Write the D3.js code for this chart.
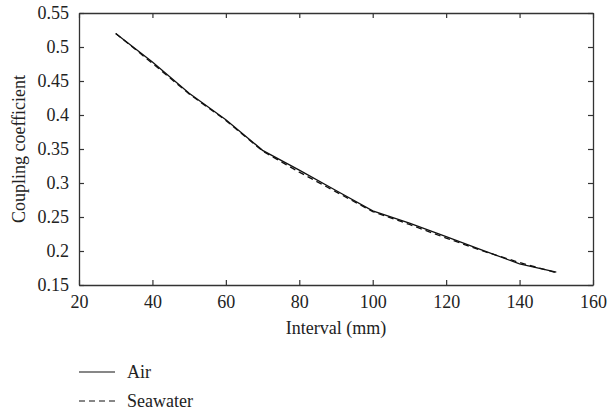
<!DOCTYPE html>
<html>
<head>
<meta charset="utf-8">
<script src="https://cdn.jsdelivr.net/npm/d3@7"></script>
<style>
  body { margin: 0; background: #fff; }
  svg text { font-family: "Liberation Serif", "DejaVu Serif", serif; fill: #222; }
</style>
</head>
<body>
<div id="chart"></div>
<script>
// values
let intervals = [30, 40, 50, 60, 70, 80, 90, 100, 110, 120, 130, 140, 150];
let air = [0.52, 0.478, 0.432, 0.393, 0.348, 0.319, 0.289, 0.259, 0.241, 0.221, 0.201, 0.181, 0.169];
let seawater = [0.52, 0.476, 0.431, 0.392, 0.347, 0.316, 0.287, 0.258, 0.239, 0.219, 0.2, 0.183, 0.168];
let xTicks = [20, 40, 60, 80, 100, 120, 140, 160];
let yTicks = [0.15, 0.2, 0.25, 0.3, 0.35, 0.4, 0.45, 0.5, 0.55];
let seriesNames = ["Air", "Seawater"];

let settings = {
    width: 608,
    height: 414,
    left: 79,
    right: 593,
    top: 13,
    bottom: 285,
    tick: 5,
    font: "18px",
    family: "'Liberation Serif', 'DejaVu Serif', serif",
};

let svg = d3.select("#chart").append("svg")
    .attr("width", settings.width)
    .attr("height", settings.height);

let x = d3.scaleLinear().domain([20, 160]).range([settings.left, settings.right]);
let y = d3.scaleLinear().domain([0.15, 0.55]).range([settings.bottom, settings.top]);

function styleAxis(g) {
    g.attr("font-family", settings.family);
    g.selectAll("path.domain").attr("stroke", "#333").attr("stroke-width", 1.3);
    g.selectAll(".tick line").attr("stroke", "#333").attr("stroke-width", 1.2);
    g.selectAll("text")
        .style("font-size", settings.font)
        .style("font-family", settings.family)
        .attr("fill", "#222");
}

// bottom axis, ticks pointing in
svg.append("g")
    .attr("transform", "translate(0," + settings.bottom + ")")
    .call(d3.axisBottom(x).tickValues(xTicks).tickSizeInner(-settings.tick).tickSizeOuter(0).tickPadding(10))
    .call(styleAxis);

// left axis
svg.append("g")
    .attr("transform", "translate(" + settings.left + ",0)")
    .call(d3.axisLeft(y).tickValues(yTicks).tickFormat(d3.format("")).tickSizeInner(-settings.tick).tickSizeOuter(0).tickPadding(10))
    .call(styleAxis);

// top and right, no labels
svg.append("g")
    .attr("transform", "translate(0," + settings.top + ")")
    .call(d3.axisTop(x).tickValues(xTicks).tickFormat("").tickSizeInner(-settings.tick).tickSizeOuter(0))
    .call(styleAxis);

svg.append("g")
    .attr("transform", "translate(" + settings.right + ",0)")
    .call(d3.axisRight(y).tickValues(yTicks).tickFormat("").tickSizeInner(-settings.tick).tickSizeOuter(0))
    .call(styleAxis);

// axis titles
svg.append("text")
    .attr("x", (settings.left + settings.right) / 2)
    .attr("y", 334)
    .attr("text-anchor", "middle")
    .style("font-size", settings.font)
    .text("Interval (mm)");

svg.append("text")
    .attr("transform", "translate(25," + (settings.top + settings.bottom) / 2 + ") rotate(-90)")
    .attr("text-anchor", "middle")
    .style("font-size", settings.font)
    .text("Coupling coefficient");

let line = d3.line()
    .x((d, i) => x(intervals[i]))
    .y(d => y(d));

let series = [
    { name: seriesNames[0], values: air, dash: null },
    { name: seriesNames[1], values: seawater, dash: "6,4" },
];

svg.append("g")
    .selectAll("path.series")
    .data(series)
    .enter().append("path")
    .attr("class", "series")
    .attr("fill", "none")
    .attr("stroke", "#111")
    .attr("stroke-width", 1.3)
    .attr("stroke-dasharray", d => d.dash)
    .attr("d", d => line(d.values));

// legend
let legend = svg.append("g")
    .selectAll("g.legend")
    .data(series)
    .enter().append("g")
    .attr("class", "legend")
    .attr("transform", (d, i) => "translate(79," + (372 + i * 29) + ")");

legend.append("line")
    .attr("x1", 0)
    .attr("x2", 36)
    .attr("stroke", "#111")
    .attr("stroke-width", 1.2)
    .attr("stroke-dasharray", d => d.dash);

legend.append("text")
    .attr("x", 48)
    .attr("y", 6)
    .style("font-size", settings.font)
    .text(d => d.name);
</script>
</body>
</html>
